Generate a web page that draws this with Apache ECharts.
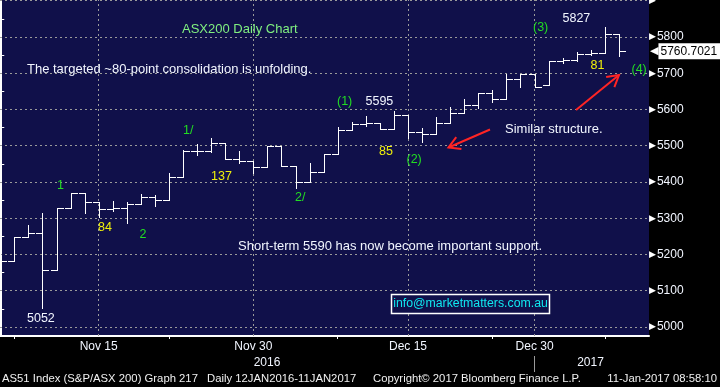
<!DOCTYPE html>
<html>
<head>
<meta charset="utf-8">
<script src="https://cdn.jsdelivr.net/npm/echarts@6/dist/echarts.min.js"></script>
<style>
html,body{margin:0;padding:0;background:#000;}
#c{width:720px;height:387px;}
</style>
</head>
<body>
<div id="c"></div>
<script>
// ---- data (trading days, ASX200 daily OHLC) ----
const dates = ['Nov 4','Nov 7','Nov 8','Nov 9','Nov 10','Nov 11','Nov 14','Nov 15','Nov 16','Nov 17',
  'Nov 18','Nov 21','Nov 22','Nov 23','Nov 24','Nov 25','Nov 28','Nov 29','Nov 30','Dec 1',
  'Dec 2','Dec 5','Dec 6','Dec 7','Dec 8','Dec 9','Dec 12','Dec 13','Dec 14','Dec 15',
  'Dec 16','Dec 19','Dec 20','Dec 21','Dec 22','Dec 23','Dec 28','Dec 29','Dec 30','Jan 3',
  'Jan 4','Jan 5','Jan 6','Jan 9','Jan 10'];
const opens  = [5205,5182,5249,5258,5157,5327,5369,5344,5325,5327,
  5339,5358,5350,5413,5485,5485,5507,5463,5457,5441,
  5499,5443,5400,5428,5476,5542,5561,5562,5545,5585,
  5537,5532,5562,5591,5612,5645,5628,5683,5697,5668,
  5735,5737,5752,5755,5807];
const highs  = [5226,5249,5281,5314,5327,5369,5369,5344,5348,5344,
  5367,5364,5424,5488,5505,5521,5507,5486,5457,5499,
  5499,5443,5453,5476,5551,5565,5582,5562,5595,5585,
  5548,5578,5608,5628,5645,5654,5697,5697,5697,5735,
  5741,5759,5764,5827,5807];
const lows   = [5182,5182,5247,5052,5157,5327,5315,5304,5321,5288,
  5339,5335,5350,5413,5474,5482,5463,5453,5424,5441,
  5443,5384,5400,5428,5476,5542,5553,5545,5545,5521,
  5511,5532,5562,5591,5605,5620,5628,5661,5663,5668,
  5729,5735,5750,5755,5748];
const closes = [5182,5249,5258,5157,5327,5369,5344,5325,5327,5339,
  5358,5350,5413,5485,5485,5507,5463,5457,5441,5499,
  5443,5399,5428,5476,5542,5561,5562,5545,5585,5537,
  5532,5562,5590,5612,5645,5628,5683,5697,5663,5735,
  5737,5752,5755,5807,5760.7021];
const lastPrice = 5760.7021;
const xTickLabels = ['Nov 15','Nov 30','Dec 15','Dec 30'];
const xMinorTickDates = ['Nov 7','Nov 22','Dec 8','Dec 23','Jan 9'];
const yTickLabels = [5000,5100,5200,5300,5400,5500,5600,5700,5800,5900];
const yMinorTicks = [5050,5150,5250,5350,5450,5550,5650,5750,5850];

// ---- build ----
const xLabelIdx = xTickLabels.map(d => dates.indexOf(d));
const xMinorIdx = xMinorTickDates.map(d => dates.indexOf(d));
const ohlc = dates.map((d, i) => [i, opens[i], highs[i], lows[i], closes[i]]);

const FONT = '"Liberation Sans", Arial, sans-serif';
const WHITE = '#f2f6ff';
const GREEN = '#22dd22';
const YELLOW = '#f0f00a';

function renderItem(params, api) {
  const i = api.value(0);
  const pO = api.coord([i, api.value(1)]);
  const pH = api.coord([i, api.value(2)]);
  const pL = api.coord([i, api.value(3)]);
  const pC = api.coord([i, api.value(4)]);
  const xc = Math.round(pH[0]);
  const st = { stroke: '#ffffff', lineWidth: 1 };
  const yo = Math.round(pO[1]) + 0.5, yc = Math.round(pC[1]) + 0.5;
  return {
    type: 'group',
    children: [
      { type: 'line', shape: { x1: xc + 0.5, y1: Math.round(pH[1]), x2: xc + 0.5, y2: Math.round(pL[1]) + 1 }, style: st },
      { type: 'line', shape: { x1: xc - 6, y1: yo, x2: xc + 1, y2: yo }, style: st },
      { type: 'line', shape: { x1: xc, y1: yc, x2: xc + 7, y2: yc }, style: st }
    ]
  };
}

function txt(t, x, y, color, size, align) {
  return { type: 'text', silent: true, z: 100,
    style: { text: t, x: x, y: y, fill: color, font: size + 'px ' + FONT, align: align || 'left', verticalAlign: 'middle' } };
}
function arrow(x1, y1, x2, y2) {
  const L = Math.hypot(x2 - x1, y2 - y1);
  const bx = (x1 - x2) / L, by = (y1 - y2) / L;
  const a = Math.PI / 6, len = 13;
  const c = Math.cos(a), s = Math.sin(a);
  const p1 = [x2 + len * (bx * c - by * s), y2 + len * (bx * s + by * c)];
  const p2 = [x2 + len * (bx * c + by * s), y2 + len * (-bx * s + by * c)];
  const st = { stroke: '#ff2424', lineWidth: 2 };
  return [
    { type: 'line', silent: true, z: 100, shape: { x1: x1, y1: y1, x2: x2, y2: y2 }, style: st },
    { type: 'polyline', silent: true, z: 100, shape: { points: [p1, [x2, y2], p2] }, style: st }
  ];
}

const chart = echarts.init(document.getElementById('c'), null, { renderer: 'canvas' });
const option = {
  backgroundColor: '#000000',
  animation: false,
  grid: { left: 0, top: 0, right: 71, bottom: 51, show: true, backgroundColor: '#10104a', borderWidth: 0, containLabel: false, outerBoundsMode: 'none' },
  xAxis: {
    type: 'value', min: -0.02, max: 46.14,
    axisLine: { show: true, onZero: false, lineStyle: { color: '#ffffff', width: 2 } },
    axisTick: { show: true, customValues: xMinorIdx, length: 3, lineStyle: { color: '#ffffff', width: 1 } },
    axisLabel: { show: true, customValues: xLabelIdx, formatter: v => dates[Math.round(v)], color: WHITE, fontSize: 12, fontFamily: FONT, margin: 5 },
    splitLine: { show: false }
  },
  yAxis: [{
    type: 'value', position: 'right', min: 4975, max: 5902,
    axisLine: { show: true, lineStyle: { color: '#ffffff', width: 2 } },
    axisTick: { show: true, customValues: yMinorTicks, length: 4, lineStyle: { color: '#ffffff', width: 1 } },
    axisLabel: {
      show: true, customValues: yTickLabels, margin: 0,
      formatter: v => v >= 5900 ? '{a|▶}' : '{a|▶}{b|' + v + '}',
      rich: {
        a: { color: '#ffffff', fontSize: 9, fontFamily: 'DejaVu Sans', padding: [0, 1, 0, 0] },
        b: { color: WHITE, fontSize: 12, fontFamily: FONT }
      }
    },
    splitLine: { show: false }
  }, {
    type: 'value', position: 'right', min: 4975, max: 5902,
    axisLine: { show: false }, axisTick: { show: false }, splitLine: { show: false },
    axisLabel: {
      show: true, customValues: [lastPrice], margin: 1,
      formatter: v => '{a|◀}{b|' + lastPrice.toFixed(4) + '}',
      rich: {
        a: { color: '#ffffff', fontSize: 11, fontFamily: 'DejaVu Sans', padding: [0, 0, 0, 0] },
        b: { color: '#000000', backgroundColor: '#ffffff', fontSize: 12, fontFamily: FONT, padding: [2, 3, 2, 2] }
      }
    }
  }],
  series: [{
    type: 'line', data: [], silent: true, z: 1,
    markLine: {
      silent: true, symbol: ['none', 'none'], label: { show: false }, animation: false,
      lineStyle: { color: '#9a9a9a', type: [2, 3], width: 1 },
      emphasis: { disabled: true },
      data: yTickLabels.map(v => ({ yAxis: v })).concat(xLabelIdx.map(v => ({ xAxis: v })))
    }
  }, {
    type: 'custom', name: 'AS51', renderItem: renderItem, data: ohlc, clip: true, z: 5,
    encode: { x: 0, y: [1, 2, 3, 4] }
  }],
  graphic: [
    txt('ASX200 Daily Chart', 182, 29, '#80f080', 13),
    txt('The targeted ~80-point consolidation is unfolding.', 27, 69, WHITE, 13),
    txt('Short-term 5590 has now become important support.', 238, 246, WHITE, 13),
    txt('Similar structure.', 505, 129, WHITE, 13),
    txt('5052', 27, 319, WHITE, 12.5),
    txt('5595', 365.5, 102, WHITE, 12.5),
    txt('5827', 562.5, 18.5, WHITE, 12.5),
    txt('84', 98, 228, YELLOW, 12.5),
    txt('137', 211, 177, YELLOW, 12.5),
    txt('85', 379, 152, YELLOW, 12.5),
    txt('81', 590.5, 66, YELLOW, 12.5),
    txt('1', 57, 186, GREEN, 12.5),
    txt('2', 139.5, 235, GREEN, 12.5),
    txt('1/', 183, 131, GREEN, 12.5),
    txt('2/', 295, 198, GREEN, 12.5),
    txt('(1)', 337, 102, GREEN, 12.5),
    txt('(2)', 406.5, 159.5, GREEN, 12.5),
    txt('(3)', 533, 28, GREEN, 12.5),
    txt('(4)', 631.5, 70, GREEN, 12.5),
    { type: 'rect', silent: true, z: 99, shape: { x: 391.5, y: 294.5, width: 158, height: 19 },
      style: { fill: '#10104a', stroke: '#ffffff', lineWidth: 1.5 } },
    txt('info@marketmatters.com.au', 470.5, 304, '#10e8f0', 12.3, 'center'),
    ...arrow(490, 129.5, 448.5, 147.5),
    ...arrow(576, 110, 619, 75),
    txt('2016', 267, 363, WHITE, 12, 'center'),
    txt('2017', 590.5, 363, WHITE, 12, 'center'),
    { type: 'line', silent: true, z: 100, shape: { x1: 534.5, y1: 356, x2: 534.5, y2: 372 }, style: { stroke: '#9a9a9a', lineWidth: 1 } },
    txt('AS51 Index (S&P/ASX 200) Graph 217', 2, 379, '#f0f0f0', 11.3),
    txt('Daily 12JAN2016-11JAN2017', 207, 379, '#f0f0f0', 11.3),
    txt('Copyright© 2017 Bloomberg Finance L.P.', 373, 379, '#f0f0f0', 11.3),
    txt('11-Jan-2017 08:58:10', 717, 379, '#f0f0f0', 11.3, 'right')
  ]
};
chart.setOption(option);
</script>
</body>
</html>
